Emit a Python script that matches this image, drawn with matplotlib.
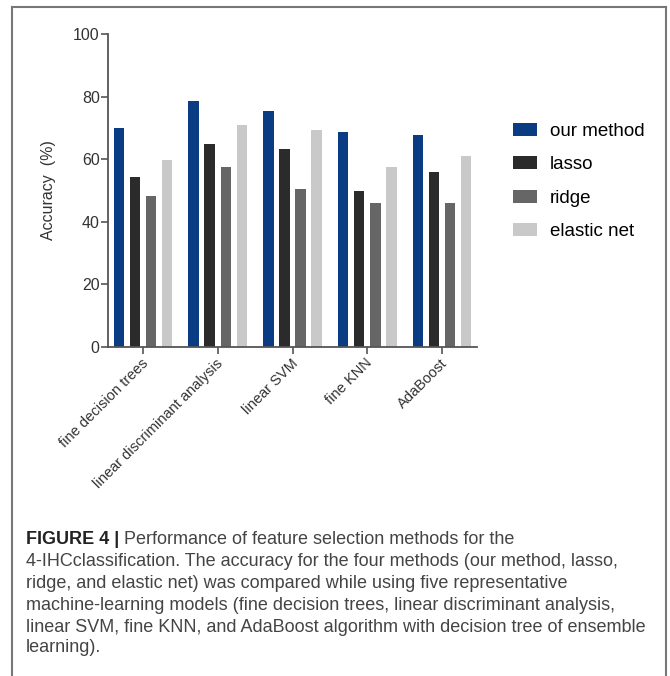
import matplotlib
matplotlib.use("Agg")
import matplotlib.pyplot as plt
import matplotlib.transforms as mtransforms
import numpy as np
from matplotlib.lines import Line2D

plt.rcParams["font.family"] = ["Liberation Sans", "DejaVu Sans"]

# Accuracy (%) of each feature selection method for every classifier
models = ["fine decision trees", "linear discriminant analysis",
          "linear SVM", "fine KNN", "AdaBoost"]
methods = ["our method", "lasso", "ridge", "elastic net"]
our_method = [70.0, 78.5, 75.4, 68.6, 67.8]
lasso = [54.3, 64.9, 63.4, 49.8, 55.9]
ridge = [48.3, 57.5, 50.6, 46.1, 46.1]
elastic_net = [59.6, 70.9, 69.4, 57.5, 61.1]
colors = ["#0a3c84", "#2b2b2b", "#666666", "#c9c9c9"]

caption_head = "FIGURE 4 |"
caption_lines = [
    " Performance of feature selection methods for the",
    "4-IHCclassification. The accuracy for the four methods (our method, lasso,",
    "ridge, and elastic net) was compared while using five representative",
    "machine-learning models (fine decision trees, linear discriminant analysis,",
    "linear SVM, fine KNN, and AdaBoost algorithm with decision tree of ensemble",
    "learning).",
]

W, H = 670, 676
fig = plt.figure(figsize=(W / 100, H / 100), dpi=100)

# axes box in pixel coordinates
x0, x1, ytop, ybot = 108, 477, 34, 347
ax = fig.add_axes([x0 / W, 1 - ybot / H, (x1 - x0) / W, (ybot - ytop) / H])

series = [our_method, lasso, ridge, elastic_net]
x = np.arange(len(models))
step = 0.215
width = 0.14
for i, (vals, name, c) in enumerate(zip(series, methods, colors)):
    ax.bar(x + (i - 1.5) * step, vals, width=width, color=c, label=name)

ax.set_xlim(-0.467, len(models) - 1 + 0.467)
ax.set_ylim(0, 100)
ax.set_yticks([0, 20, 40, 60, 80, 100])
ax.set_xticks(x)
ax.set_xticklabels([])
# slanted model names, ending just right of and below each tick
shift = mtransforms.ScaledTranslation(3 / 100, -14 / 100, fig.dpi_scale_trans)
for xi, name in zip(x, models):
    ax.text(xi, 0, name, transform=ax.get_xaxis_transform() + shift,
            rotation=45, ha="right", va="center", rotation_mode="anchor",
            fontsize=10.5, color="#333333")
ax.tick_params(axis="y", labelsize=11.5, labelcolor="#333333", length=5,
               width=1.2, color="#555555", pad=1)
ax.tick_params(axis="x", length=5, width=1.2, color="#555555")
for side in ["top", "right"]:
    ax.spines[side].set_visible(False)
for side in ["left", "bottom"]:
    ax.spines[side].set_color("#555555")
    ax.spines[side].set_linewidth(1.3)
ax.set_ylabel("Accuracy  (%)", fontsize=11.5, color="#333333", labelpad=12)

ax.legend(loc="upper left", bbox_to_anchor=(513 / W, 1 - 123 / H),
          bbox_transform=fig.transFigure, frameon=False, fontsize=13.5,
          handlelength=1.3, handleheight=0.7, handletextpad=0.65,
          labelspacing=0.86, borderaxespad=0, borderpad=0)

# caption below the chart
fig.canvas.draw()
r = fig.canvas.get_renderer()
cx = 26 / W
fs = 13
line_y = [540, 562, 583, 605, 627, 648]
head = fig.text(cx, 1 - line_y[0] / H, caption_head, fontsize=fs,
                fontweight="bold", color="#222222", va="center")
bb = head.get_window_extent(renderer=r)
fig.text(bb.x1 / W, 1 - line_y[0] / H, caption_lines[0], fontsize=fs,
         color="#444444", va="center")
for ly, txt in zip(line_y[1:], caption_lines[1:]):
    fig.text(cx, 1 - ly / H, txt, fontsize=fs, color="#444444", va="center")

# outer frame (open at the bottom)
fc = "#777777"
fig.add_artist(Line2D([12 / W, 12 / W], [0, 1 - 6.5 / H], color=fc, lw=1.5))
fig.add_artist(Line2D([12 / W, 666 / W], [1 - 6.5 / H, 1 - 6.5 / H], color=fc, lw=1.5))
fig.add_artist(Line2D([666 / W, 666 / W], [0, 1 - 6.5 / H], color=fc, lw=1.5))

fig.savefig("out.png", dpi=100)
